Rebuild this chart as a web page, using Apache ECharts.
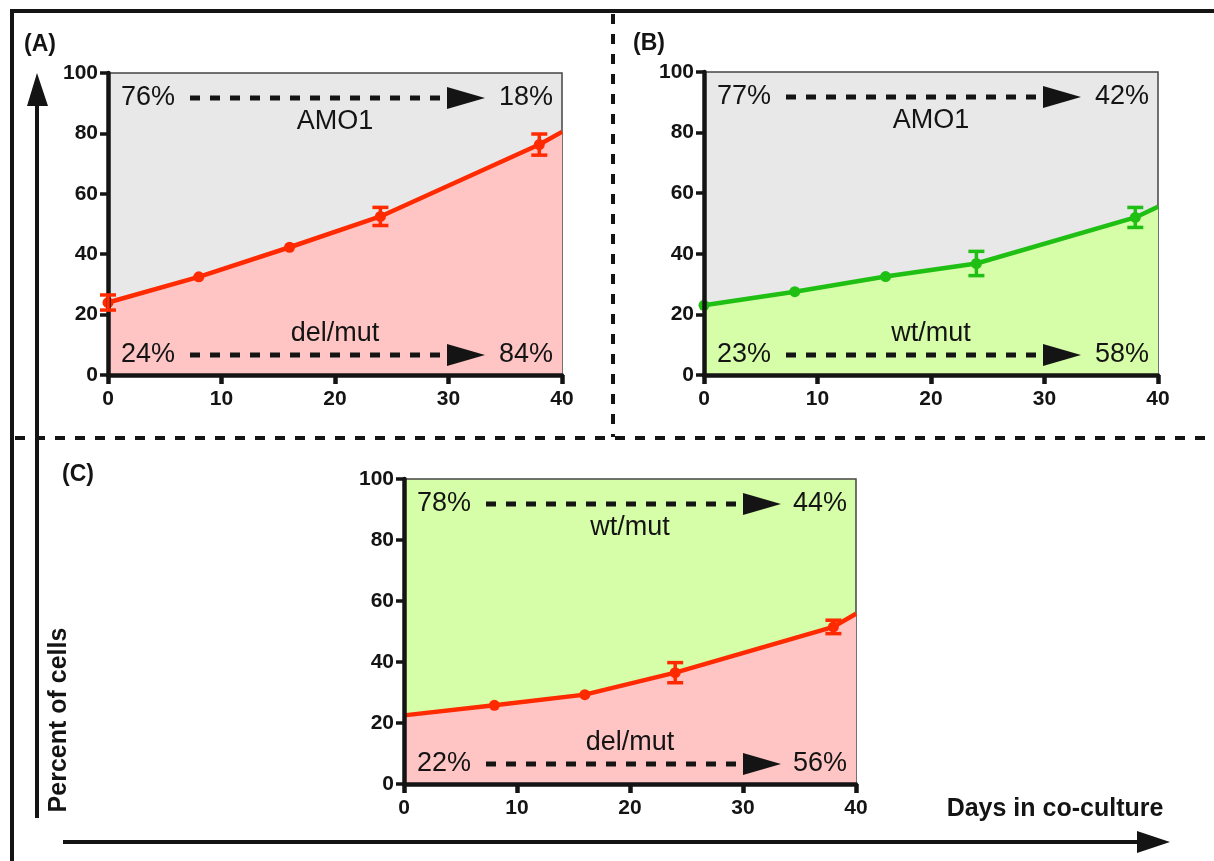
<!DOCTYPE html>
<html>
<head>
<meta charset="utf-8">
<title>Percent of cells in co-culture</title>
<script src="https://cdn.jsdelivr.net/npm/echarts@6/dist/echarts.min.js"></script>
<style>
  html, body { margin: 0; padding: 0; background: #fff; }
  #chart { width: 1214px; height: 861px; }
</style>
</head>
<body>
<div id="chart"></div>
<script>
// data (day 40 is where the line leaves the plot)
const days = [0, 8, 16, 24, 38, 40];
const xTicks = [0, 10, 20, 30, 40];
const yTicks = [0, 20, 40, 60, 80, 100];

const valuesA = [24, 32.5, 42.3, 52.5, 76.3, 80.5];
const errorsA = [2.5, 0, 0, 3, 3.5, 0];
const valuesB = [23, 27.5, 32.5, 36.8, 52, 55.5];
const errorsB = [0, 0, 0, 4, 3.3, 0];
const valuesC = [22.5, 25.8, 29.3, 36.5, 51.5, 55.8];
const errorsC = [0, 0, 0, 3.3, 2.2, 0];

// which points get a dot
const dotsA = [1, 1, 1, 1, 1, 0];
const dotsB = [1, 1, 1, 1, 1, 0];
const dotsC = [0, 1, 1, 1, 1, 0];

// text in each panel: top-left, top-right, top name, bottom name, bottom-left, bottom-right
const notesA = ['76%', '18%', 'AMO1', 'del/mut', '24%', '84%'];
const notesB = ['77%', '42%', 'AMO1', 'wt/mut', '23%', '58%'];
const notesC = ['78%', '44%', 'wt/mut', 'del/mut', '22%', '56%'];

const RED = '#ff2a00';
const GREEN = '#1fbf14';
const GREY_BG = '#e8e8e8';
const PINK = '#ffc4c4';
const LIGHT_GREEN = '#d6fea8';
const INK = '#141414';
const FONT = '"Liberation Sans", Arial, Helvetica, sans-serif';

const chart = echarts.init(document.getElementById('chart'));

const grids = [
    {left: 108, top: 73, width: 454, height: 302, backgroundColor: GREY_BG},
    {left: 704, top: 72, width: 454, height: 303, backgroundColor: GREY_BG},
    {left: 404, top: 479, width: 452, height: 305, backgroundColor: LIGHT_GREEN}
];

function xAxis(i) {
    return {
        type: 'value', gridIndex: i,
        min: xTicks[0], max: xTicks[xTicks.length - 1], interval: xTicks[1] - xTicks[0],
        axisLine: {lineStyle: {color: INK, width: 4.5}},
        axisTick: {show: true, length: 9, lineStyle: {color: INK, width: 4.5}},
        axisLabel: {margin: 14, color: INK, fontFamily: FONT, fontWeight: 'bold', fontSize: 21},
        splitLine: {show: false},
        z: 5
    };
}

function yAxis(i) {
    return {
        type: 'value', gridIndex: i,
        min: yTicks[0], max: yTicks[yTicks.length - 1], interval: yTicks[1] - yTicks[0],
        axisLine: {show: true, lineStyle: {color: INK, width: 4.5}},
        axisTick: {show: true, length: 8, lineStyle: {color: INK, width: 3.5}},
        axisLabel: {margin: 10, color: INK, fontFamily: FONT, fontWeight: 'bold', fontSize: 21},
        splitLine: {show: false},
        z: 5
    };
}

function lineSeries(i, values, dots, color, fill) {
    return {
        type: 'line', xAxisIndex: i, yAxisIndex: i,
        data: days.map((d, k) => ({value: [d, values[k]], symbol: dots[k] ? 'circle' : 'none'})),
        symbolSize: 11,
        lineStyle: {color: color, width: 4.5},
        itemStyle: {color: color},
        areaStyle: {color: fill, opacity: 1, origin: 'start'},
        z: 3,
        animation: false
    };
}

// error bars drawn with the axis scale
function errorSeries(i, values, errors, color) {
    const rows = [];
    days.forEach((d, k) => {
        if (errors[k] > 0) rows.push([d, values[k] - errors[k], values[k] + errors[k]]);
    });
    return {
        type: 'custom', xAxisIndex: i, yAxisIndex: i, z: 6,
        data: rows,
        renderItem: (params, api) => {
            const lo = api.coord([api.value(0), api.value(1)]);
            const hi = api.coord([api.value(0), api.value(2)]);
            const w = 8;
            const style = {stroke: color, lineWidth: 3.5};
            return {
                type: 'group', children: [
                    {type: 'line', shape: {x1: lo[0], y1: lo[1], x2: hi[0], y2: hi[1]}, style: style},
                    {type: 'line', shape: {x1: lo[0] - w, y1: lo[1], x2: lo[0] + w, y2: lo[1]}, style: style},
                    {type: 'line', shape: {x1: hi[0] - w, y1: hi[1], x2: hi[0] + w, y2: hi[1]}, style: style}
                ]
            };
        },
        animation: false
    };
}

// dashed arrow row with percentages
function noteRow(g, y, leftText, rightText) {
    const txt = {fill: INK, fontFamily: FONT, fontSize: 27, verticalAlign: 'middle'};
    return [
        {type: 'text', x: g.left + 13, y: y, style: Object.assign({text: leftText, align: 'left'}, txt)},
        {type: 'line', shape: {x1: g.left + 82, y1: y, x2: g.left + 342, y2: y},
            style: {stroke: INK, lineWidth: 5, lineDash: [10, 10]}},
        {type: 'polygon', shape: {points: [[g.left + 339, y - 11], [g.left + 377, y], [g.left + 339, y + 11]]},
            style: {fill: INK}},
        {type: 'text', x: g.left + g.width - 9, y: y, style: Object.assign({text: rightText, align: 'right'}, txt)}
    ];
}

function panelNotes(g, notes) {
    const name = {fill: INK, fontFamily: FONT, fontSize: 27, align: 'center', verticalAlign: 'middle'};
    return [].concat(
        noteRow(g, g.top + 25, notes[0], notes[1]),
        [{type: 'text', x: g.left + g.width / 2, y: g.top + 49, style: Object.assign({text: notes[2]}, name)}],
        [{type: 'text', x: g.left + g.width / 2, y: g.top + g.height - 41, style: Object.assign({text: notes[3]}, name)}],
        noteRow(g, g.top + g.height - 20, notes[4], notes[5])
    );
}

const frame = {stroke: INK, lineWidth: 4};
const dashed = {stroke: INK, lineWidth: 4, lineDash: [10, 10]};
const letter = {fill: INK, fontFamily: FONT, fontSize: 23, fontWeight: 'bold', verticalAlign: 'middle'};

const graphics = [
    // outer frame and panel dividers
    {type: 'line', shape: {x1: 12, y1: 9, x2: 12, y2: 861}, style: frame},
    {type: 'line', shape: {x1: 10, y1: 11, x2: 1214, y2: 11}, style: frame},
    {type: 'line', shape: {x1: 613, y1: 14, x2: 613, y2: 437}, style: dashed},
    {type: 'line', shape: {x1: 15, y1: 438, x2: 1214, y2: 438}, style: dashed},
    // big axis arrows
    {type: 'line', shape: {x1: 37, y1: 818, x2: 37, y2: 100}, style: frame},
    {type: 'polygon', shape: {points: [[27, 106], [37, 73], [48, 106]]}, style: {fill: INK}},
    {type: 'line', shape: {x1: 63, y1: 842, x2: 1140, y2: 842}, style: frame},
    {type: 'polygon', shape: {points: [[1137, 831], [1170, 842], [1137, 853]]}, style: {fill: INK}},
    {type: 'text', x: 59, y: 720, rotation: Math.PI / 2,
        style: {text: 'Percent of cells', fill: INK, fontFamily: FONT, fontSize: 25, fontWeight: 'bold',
            align: 'center', verticalAlign: 'middle'}},
    {type: 'text', x: 1055, y: 809,
        style: {text: 'Days in co-culture', fill: INK, fontFamily: FONT, fontSize: 25, fontWeight: 'bold',
            align: 'center', verticalAlign: 'middle'}},
    // panel letters
    {type: 'text', x: 24, y: 45, style: Object.assign({text: '(A)'}, letter)},
    {type: 'text', x: 633, y: 44, style: Object.assign({text: '(B)'}, letter)},
    {type: 'text', x: 62, y: 475, style: Object.assign({text: '(C)'}, letter)}
].concat(
    panelNotes(grids[0], notesA),
    panelNotes(grids[1], notesB),
    panelNotes(grids[2], notesC)
).map(el => Object.assign({z: 100}, el));

const option = {
    animation: false,
    backgroundColor: '#fff',
    grid: grids.map(g => ({
        left: g.left, top: g.top, width: g.width, height: g.height,
        show: true, backgroundColor: g.backgroundColor, borderColor: '#444', borderWidth: 1.5
    })),
    xAxis: [xAxis(0), xAxis(1), xAxis(2)],
    yAxis: [yAxis(0), yAxis(1), yAxis(2)],
    series: [
        lineSeries(0, valuesA, dotsA, RED, PINK),
        errorSeries(0, valuesA, errorsA, RED),
        lineSeries(1, valuesB, dotsB, GREEN, LIGHT_GREEN),
        errorSeries(1, valuesB, errorsB, GREEN),
        lineSeries(2, valuesC, dotsC, RED, PINK),
        errorSeries(2, valuesC, errorsC, RED)
    ],
    graphic: graphics
};

chart.setOption(option);
</script>
</body>
</html>
